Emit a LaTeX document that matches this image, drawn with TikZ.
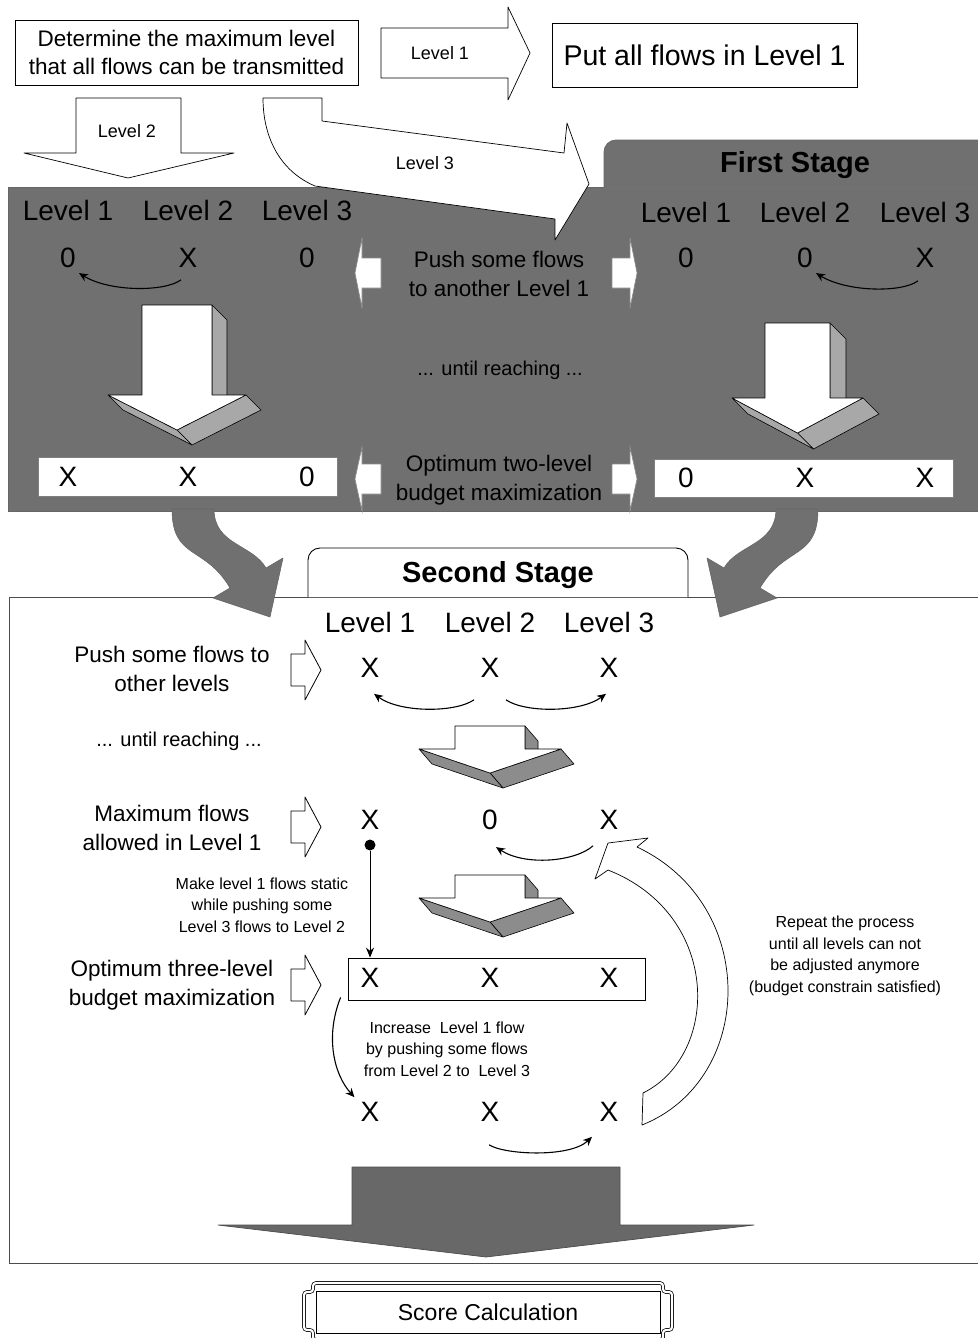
\documentclass[tikz,border=0pt]{standalone}
\usepackage{fontspec}
\setmainfont{Liberation Sans}
\usetikzlibrary{arrows.meta,calc}

\definecolor{stagegray}{RGB}{112,112,112}
\definecolor{sidegray}{RGB}{168,168,168}
\definecolor{sidegraydark}{RGB}{140,140,140}
\definecolor{dropgray}{RGB}{104,104,104}

% extruded ("3D") down arrow: #1,#2 top centre, #3 half body width, #4 head base,
% #5 half head width, #6 tip, #7,#8 depth offset, #9 colour of the side faces
\newcommand\solidarrow[9]{%
  \begin{scope}[shift={(#1,#2)}]
    \coordinate (sa-B) at (#3,0);
    \coordinate (sa-C) at (#3,#4);
    \coordinate (sa-D) at (#5,#4);
    \coordinate (sa-E) at (0,#6);
    \coordinate (sa-F) at (-#5,#4);
    \foreach \p/\q in {B/C,D/E,E/F}
      \filldraw[fill=#9,draw=black,line width=0.6,line join=round]
        (sa-\p) -- (sa-\q) -- ([shift={(#7,#8)}]sa-\q) -- ([shift={(#7,#8)}]sa-\p) -- cycle;
    \filldraw[fill=white,draw=black,line width=0.6,line join=round]
      (-#3,0) -- (#3,0) -- (#3,#4) -- (#5,#4) -- (0,#6) -- (-#5,#4) -- (-#3,#4) -- cycle;
  \end{scope}}

% outlined pointer in front of a row of the second stage
\newcommand\pointer[1]{%
  \draw[fill=white,line width=0.8,line join=round,shift={(0,#1)}]
    (291,-16) -- (305,-16) -- (305,-30) -- (321,0) -- (305,30) -- (305,16) -- (291,16) -- cycle;}

% pair of short white arrows on both sides of a caption in the first stage
\newcommand\stubarrows[2]{%
  \begin{scope}[shift={(0,#1)}]
    \draw[fill=white,draw=black!45,line width=0.6]
      (381,-15) -- (362,-15) -- (362,-#2) -- (355,0) -- (362,#2) -- (362,15) -- (381,15) -- cycle;
    \draw[fill=white,draw=black!45,line width=0.6]
      (612,-15) -- (630,-15) -- (630,-#2) -- (637,0) -- (630,#2) -- (630,15) -- (612,15) -- cycle;
  \end{scope}}

% thick grey bent arrow from the first stage into the second one
\newcommand\bentarrow{%
  \filldraw[fill=stagegray,draw=black!60,line width=0.6,line join=round]
    (172,509) -- (214,509) .. controls (214,545) and (252,544) .. (266,568)
    -- (283,558) -- (270,617) -- (213,598) -- (230,588)
    .. controls (205,545) and (172,560) .. (172,509) -- cycle;}

\begin{document}
\begin{tikzpicture}[x=1pt,y=-1pt,
  txt/.style={inner sep=0pt,align=center,font=\fontsize{22.5}{28.5}\selectfont},
  small/.style={inner sep=0pt,align=center,font=\fontsize{16}{21.5}\selectfont},
  lvl/.style={inner sep=0pt,font=\fontsize{28}{30}\selectfont},
  tag/.style={inner sep=0pt,font=\fontsize{18}{20}\selectfont},
  stagehead/.style={inner sep=0pt,font=\bfseries\fontsize{29}{30}\selectfont},
  box/.style={draw,line width=0.8,fill=white},
  conn/.style={line width=1.1,-{Stealth[length=9pt,width=8pt]}},
  blockarrow/.style={fill=white,draw=black,line width=0.7,line join=round}]

\useasboundingbox (0,0) rectangle (977,1338);
\fill[white] (0,0) rectangle (977,1338);

% ---------- top: choice of the starting level ----------
\node[box,txt,minimum width=343,minimum height=65] (det) at (186.5,52.5)
  {Determine the maximum level\\that all flows can be transmitted};
\node[box,inner sep=0pt,minimum width=305,minimum height=64,
      font=\fontsize{28.5}{30}\selectfont] (all) at (704.5,55) {Put all flows in Level 1};

\draw[blockarrow] (381,28) -- (508,28) -- (508,7) -- (530,53) -- (508,100) -- (508,78) -- (381,78) -- cycle;
\node[tag] (l1) at (440,53) {Level 1};

\draw[blockarrow] (76,98) -- (181,98) -- (181,153) -- (234,153) -- (128,178) -- (24,153) -- (76,153) -- cycle;
\node[tag] (l2) at (127,131) {Level 2};

% ---------- first stage ----------
\filldraw[fill=stagegray,draw=black!60,line width=0.8] (8,187) rectangle (990,511);
\path[fill=stagegray,draw=black!60,line width=0.8,rounded corners=12]
  (604,188) -- (604,140) -- (995,140) -- (995,188);
\draw[black!55,line width=0.8] (604,188) -- (977,188);
\node[stagehead] (first) at (795,165) {First Stage};

\draw[blockarrow] (263,98) -- (322,98) -- (322,121) -- (564,153) -- (567,123) -- (589,184)
  -- (555,240) -- (555,219) -- (315,186) .. controls (282,172) and (263,140) .. (263,98) -- cycle;
\node[tag] (l3) at (425,163) {Level 3};

\foreach \x/\n in {68/1,188/2,307/3} \node[lvl] (fa\n) at (\x,210) {Level \n};
\foreach \x/\n in {686/1,805/2,925/3} \node[lvl] (fb\n) at (\x,212) {Level \n};

\node[lvl] (f1a) at (68,258) {0};
\node[lvl] (f1b) at (188,258) {X};
\node[lvl] (f1c) at (307,258) {0};
\node[lvl] (f2a) at (686,258) {0};
\node[lvl] (f2b) at (805,258) {0};
\node[lvl] (f2c) at (925,258) {X};
\draw[conn] ($(f1b.south)+(-7,12)$) .. controls +(-16,12) and +(31,19) .. ($(f1a.south)+(11,5)$);
\draw[conn] ($(f2c.south)+(-7,13)$) .. controls +(-16,12) and +(31,19) .. ($(f2b.south)+(11,5)$);

\stubarrows{273}{35}
\node[txt] (push1) at (499,274) {Push some flows\\to another Level 1};
\node[txt,font=\fontsize{20}{24}\selectfont] (until1) at (500,370) {... until reaching ...};
\stubarrows{479}{32}
\node[txt] (opt2) at (499,480) {Optimum two-level\\budget maximization};

\solidarrow{177}{305}{35}{90}{69}{125}{15}{15}{sidegray}
\solidarrow{797.5}{323}{32.5}{75}{65.5}{110}{16}{16}{sidegray}

\draw[fill=white,draw=black!50,line width=0.6] (38,457) rectangle (337,496);
\draw[fill=white,draw=black!50,line width=0.6] (654,459) rectangle (953,497);
\node[lvl] (b1a) at (68,477) {X};
\node[lvl] (b1b) at (188,477) {X};
\node[lvl] (b1c) at (307,477) {0};
\node[lvl] (b2a) at (686,478) {0};
\node[lvl] (b2b) at (805,478) {X};
\node[lvl] (b2c) at (925,478) {X};

% ---------- second stage ----------
\draw[fill=white,draw=black!70,line width=0.9] (9,597) rectangle (990,1263);
\path[fill=white,draw=black,line width=0.9,rounded corners=12]
  (308,597) -- (308,548) -- (688,548) -- (688,597);
\node[stagehead] (second) at (498,575) {Second Stage};

\bentarrow
\begin{scope}[xshift=990pt,xscale=-1]
  \bentarrow
\end{scope}

\foreach \x/\n in {370/1,490/2,609/3} \node[lvl] (sl\n) at (\x,622) {Level \n};

\pointer{670}
\node[txt] (push2) at (172,669) {Push some flows to\\other levels};
\node[lvl] (s1a) at (370,668) {X};
\node[lvl] (s1b) at (490,668) {X};
\node[lvl] (s1c) at (609,668) {X};
\draw[conn] ($(s1b.south)+(-16,22)$) .. controls +(-19,13) and +(26,19) .. ($(s1a.south)+(4,16)$);
\draw[conn] ($(s1b.south)+(16,22)$) .. controls +(19,13) and +(-26,19) .. ($(s1c.south)+(-3,16)$);

\node[txt,font=\fontsize{20}{24}\selectfont] (until2) at (179,741) {... until reaching ...};
\solidarrow{490}{726}{35}{23}{71}{47}{13}{15}{sidegraydark}

\pointer{827}
\node[txt] (maxf) at (172,828) {Maximum flows\\allowed in Level 1};
\node[lvl] (s2a) at (370,820) {X};
\node[lvl] (s2b) at (490,820) {0};
\node[lvl] (s2c) at (609,820) {X};
\draw[conn] ($(s2c.south)+(-16,16)$) .. controls +(-18,16) and +(29,19) .. ($(s2b.south)+(6,17)$);

\node[circle,fill=black,inner sep=0pt,minimum size=11] (dot) at (370,845) {};
\node[small] (static) at (262,905) {Make level 1 flows static\\while pushing some\\Level 3 flows to Level 2};
\solidarrow{490}{875}{35}{23}{71}{47}{13}{15}{sidegraydark}

\pointer{985}
\node[txt] (opt3) at (172,985) {Optimum three-level\\budget maximization};
\node[draw,line width=0.8,minimum width=297,minimum height=42,inner sep=0pt] (s3box) at (496.5,979) {};
\node[lvl] (s3a) at (370,978) {X};
\node[lvl] (s3b) at (490,978) {X};
\node[lvl] (s3c) at (609,978) {X};
\draw[line width=0.9,-{Stealth[length=10pt,width=8pt]}] (dot) -- (dot |- s3box.north);

\node[small] (repeat) at (845,956) {Repeat the process\\until all levels can not\\be adjusted anymore\\(budget constrain satisfied)};

\node[small] (incr) at (447,1049) {Increase\ \ Level 1 flow\\by pushing some flows\\from Level 2 to\ \ Level 3};
\node[lvl] (s4a) at (370,1112) {X};
\node[lvl] (s4b) at (490,1112) {X};
\node[lvl] (s4c) at (609,1112) {X};
\draw[conn] ($(s3box.south west)+(-7,-3)$) .. controls +(-16,40) and +(-20,-22) .. ($(s4a.north west)+(-6,-5)$);
\draw[conn] ($(s4b.south)+(-1,23)$) .. controls +(16,10) and +(-22,21) .. ($(s4c.south)+(-17,15)$);

% wide bent return arrow
\draw[fill=white,line width=0.7,line join=round]
  (642,1125) .. controls (755,1080) and (760,905) .. (637,847)
  -- (648,838) -- (608,843) -- (595,879) -- (608,870)
  .. controls (722,915) and (720,1055) .. (643,1093) -- cycle;

% ---------- result ----------
\filldraw[fill=dropgray,draw=black!70,line width=0.7,line join=round]
  (352,1167) -- (620,1167) -- (620,1225) -- (754,1225) -- (486,1257) -- (218,1225) -- (352,1225) -- cycle;

\draw[line width=0.7,double,double distance=2.2,rounded corners=3]
  (313,1283) -- (663,1283) -- (663,1292) -- (672,1292) -- (672,1330) -- (663,1330) -- (663,1340)
  -- (313,1340) -- (313,1330) -- (304,1330) -- (304,1292) -- (313,1292) -- cycle;
\draw[line width=0.7] (316,1291) rectangle (660,1333);
\node[txt,font=\fontsize{23}{26}\selectfont] (score) at (488,1312) {Score Calculation};
\end{tikzpicture}
\end{document}
